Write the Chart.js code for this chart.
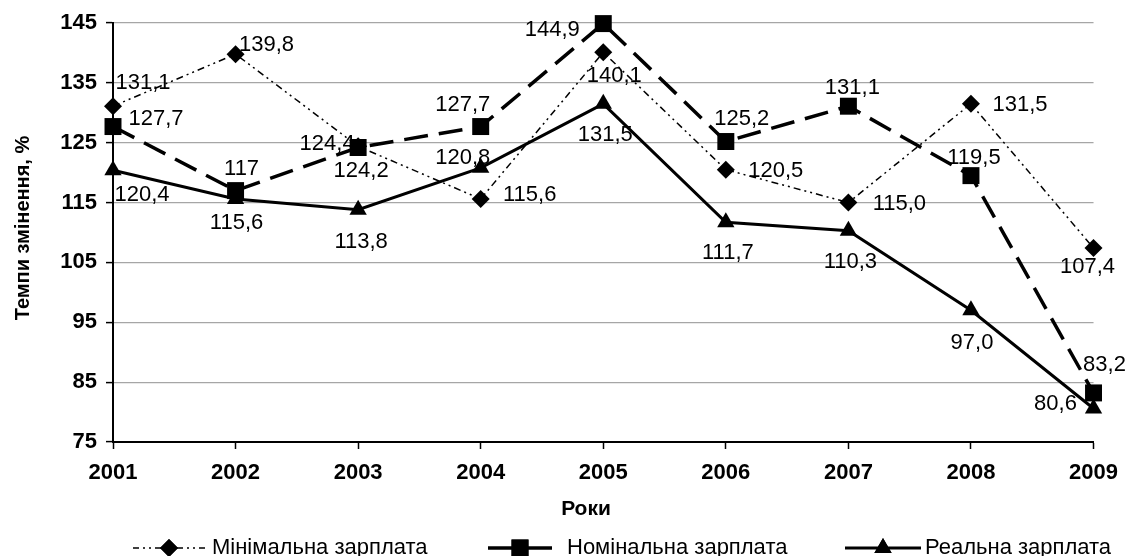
<!DOCTYPE html>
<html>
<head>
<meta charset="utf-8">
<script src="https://cdn.jsdelivr.net/npm/chart.js@4"></script>
<style>
  body { margin: 0; background: #fff; }
  #wrap { width: 1129px; height: 556px; }
</style>
</head>
<body>
<div id="wrap"><canvas id="chart" width="1129" height="556"></canvas></div>
<script>
const years = ["2001", "2002", "2003", "2004", "2005", "2006", "2007", "2008", "2009"];
const minWage = [131.1, 139.8, 124.4, 115.6, 140.1, 120.5, 115.0, 131.5, 107.4];
const nominalWage = [127.7, 117, 124.2, 127.7, 144.9, 125.2, 131.1, 119.5, 83.2];
const realWage = [120.4, 115.6, 113.8, 120.8, 131.5, 111.7, 110.3, 97.0, 80.6];
const yTicks = [75, 85, 95, 105, 115, 125, 135, 145];

// label nudges (px from the point)
const minOffsets = [[30, -24], [31, -10], [-31, -3], [49, -5], [11, 23], [50, 0], [51, 0], [49, 0], [-6, 18]];
const nomOffsets = [[43, -9], [6, -23], [3, 22], [-18, -23], [-51, 5], [16, -24], [4, -19], [3, -19], [11, -29]];
const realOffsets = [[29, 24], [1, 23], [3, 31], [-18, -11], [2, 30], [2, 30], [2, 30], [1, 32], [-38, -6]];

const FONT = "Arial, 'Liberation Sans', sans-serif";

function fmt(v, keepInt) {
    if (keepInt && v % 1 === 0) return String(v);
    return v.toFixed(1).replace(".", ",");
}

const labelPlugin = {
    id: "valueLabels",
    afterDatasetsDraw(chart) {
        const ctx = chart.ctx;
        ctx.save();
        ctx.font = "22px " + FONT;
        ctx.fillStyle = "#000";
        ctx.textAlign = "center";
        ctx.textBaseline = "middle";
        chart.data.datasets.forEach((ds, i) => {
            const meta = chart.getDatasetMeta(i);
            meta.data.forEach((pt, j) => {
                const off = ds.labelOffsets[j];
                ctx.fillText(fmt(ds.data[j], ds.keepInt), pt.x + off[0], pt.y + off[1] + 1);
            });
        });
        ctx.restore();
    }
};

function drawSymbol(ctx, x1, x2, y, ds) {
    ctx.save();
    ctx.strokeStyle = "#000";
    ctx.lineWidth = ds.borderWidth;
    ctx.setLineDash(ds.legendDash || []);
    ctx.beginPath();
    ctx.moveTo(x1, y);
    ctx.lineTo(x2, y);
    ctx.stroke();
    ctx.setLineDash([]);
    Chart.helpers.drawPoint(ctx, { pointStyle: ds.pointStyle, radius: ds.pointRadius, borderWidth: 0 }, (x1 + x2) / 2, y);
    ctx.fill();
    ctx.restore();
}

const decorPlugin = {
    id: "decor",
    afterDraw(chart) {
        const ctx = chart.ctx;
        ctx.save();
        ctx.fillStyle = "#000";
        // y title
        ctx.font = "bold 20px " + FONT;
        ctx.textAlign = "center";
        ctx.textBaseline = "middle";
        ctx.translate(23, 228);
        ctx.rotate(-Math.PI / 2);
        ctx.fillText("Темпи змінення, %", 0, 0);
        ctx.setTransform(1, 0, 0, 1, 0, 0);
        // x title
        ctx.font = "bold 21px " + FONT;
        ctx.fillText("Роки", 586, 509);
        // legend
        const items = [
            { ds: chart.data.datasets[0], x1: 133, x2: 205, tx: 212 },
            { ds: chart.data.datasets[1], x1: 488, x2: 552, tx: 567 },
            { ds: chart.data.datasets[2], x1: 845, x2: 921, tx: 925 }
        ];
        const ly = 548;
        items.forEach(it => {
            ctx.fillStyle = "#000";
            drawSymbol(ctx, it.x1, it.x2, ly, it.ds);
            ctx.font = "22px " + FONT;
            ctx.textAlign = "left";
            ctx.textBaseline = "middle";
            ctx.fillStyle = "#000";
            ctx.fillText(it.ds.label, it.tx, ly);
        });
        ctx.restore();
    }
};

const ctx = document.getElementById("chart").getContext("2d");
const chart = new Chart(ctx, {
    type: "line",
    data: {
        labels: years,
        datasets: [
            {
                label: "Мінімальна зарплата",
                data: minWage,
                borderColor: "#000",
                backgroundColor: "#000",
                borderWidth: 1.5,
                borderDash: [7, 4, 2, 4, 2, 4],
                legendDash: [6, 4, 2, 4, 2, 4],
                pointStyle: "rectRot",
                pointRadius: 9,
                pointBorderWidth: 0,
                labelOffsets: minOffsets,
                keepInt: false,
                clip: false
            },
            {
                label: "Номінальна зарплата",
                data: nominalWage,
                borderColor: "#000",
                backgroundColor: "#000",
                borderWidth: 3.5,
                borderDash: [24, 11],
                legendDash: [],
                pointStyle: "rect",
                pointRadius: 12,
                pointBorderWidth: 0,
                labelOffsets: nomOffsets,
                keepInt: true,
                clip: false
            },
            {
                label: "Реальна зарплата",
                data: realWage,
                borderColor: "#000",
                backgroundColor: "#000",
                borderWidth: 3,
                pointStyle: "triangle",
                pointRadius: 10,
                pointBorderWidth: 0,
                labelOffsets: realOffsets,
                keepInt: false,
                clip: false
            }
        ]
    },
    options: {
        responsive: false,
        animation: false,
        layout: { padding: { left: 0, top: 23, right: 35, bottom: 0 } },
        plugins: {
            legend: { display: false },
            tooltip: { enabled: false }
        },
        elements: { line: { tension: 0 } },
        scales: {
            x: {
                offset: false,
                afterFit: (s) => { s.height = 114; },
                grid: { drawOnChartArea: false, drawTicks: true, tickLength: 7, tickColor: "#000", tickWidth: 1.5 },
                border: { color: "#000", width: 2 },
                ticks: { color: "#000", font: { family: FONT, size: 22, weight: "bold" }, padding: 11, maxRotation: 0 }
            },
            y: {
                min: 75,
                max: 145,
                afterFit: (s) => { s.width = 113; },
                afterBuildTicks: (s) => { s.ticks = yTicks.map(v => ({ value: v })); },
                grid: { color: "#a6a6a6", lineWidth: 1.2, tickLength: 7, tickColor: "#000", tickWidth: 1.5 },
                border: { color: "#000", width: 2 },
                ticks: { color: "#000", font: { family: FONT, size: 22, weight: "bold" }, padding: 9 }
            }
        }
    },
    plugins: [labelPlugin, decorPlugin]
});
</script>
</body>
</html>
